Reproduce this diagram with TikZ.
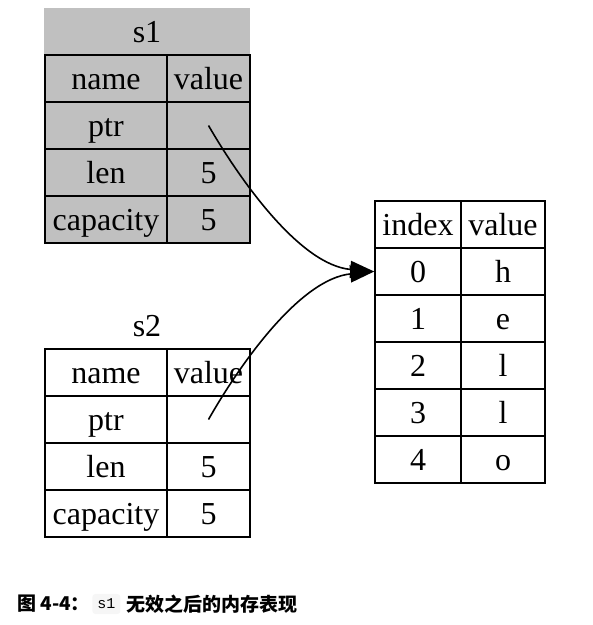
\documentclass[tikz,border=0pt]{standalone}
\usepackage{fontspec}
\setmainfont{Liberation Serif}
\newfontfamily\cjk{Noto Sans CJK SC}
\newfontfamily\monof{Liberation Mono}
\usetikzlibrary{arrows.meta}
\definecolor{cellgray}{HTML}{C0C0C0}
\definecolor{codebg}{HTML}{F6F6F6}
\begin{document}
\begin{tikzpicture}[x=1pt,y=-1pt,
  cell/.style={draw, line width=1.6pt, minimum height=47pt, inner sep=0pt,
    text height=24pt, text depth=3pt, font=\fontsize{32}{36}\selectfont},
  lcol/.style={cell, minimum width=122pt},
  rcol/.style={cell, minimum width=83pt},
  icol/.style={cell, minimum width=86pt},
  vcol/.style={cell, minimum width=84pt},
  gcell/.style={fill=cellgray},
  title/.style={inner sep=0pt, text height=24pt, text depth=3pt, font=\fontsize{32}{36}\selectfont},
  ptrarrow/.style={line width=1.6pt, -{Triangle[length=24pt,width=17pt]}},
  capfont/.style={font=\cjk\bfseries\fontsize{19}{22}\selectfont, inner sep=0pt, anchor=west}
]
\useasboundingbox (0,0) rectangle (593,625);

% s1 title band
\fill[cellgray] (44,8) rectangle (250,55);
\node[title] (s1title) at (147,31.5) {s1};

% s1 table
\node[lcol,gcell] (s1n)   at (106,78.5)  {name};
\node[rcol,gcell] (s1v)   at (208.5,78.5) {value};
\node[lcol,gcell] (s1p)   at (106,125.5) {ptr};
\node[rcol,gcell] (s1pv)  at (208.5,125.5) {};
\node[lcol,gcell] (s1l)   at (106,172.5) {len};
\node[rcol,gcell] (s1lv)  at (208.5,172.5) {5};
\node[lcol,gcell] (s1c)   at (106,219.5) {capacity};
\node[rcol,gcell] (s1cv)  at (208.5,219.5) {5};

% s2 title
\node[title] (s2title) at (147,325.5) {s2};

% s2 table
\node[lcol] (s2n)   at (106,372.5)  {name};
\node[rcol] (s2v)   at (208.5,372.5) {value};
\node[lcol] (s2p)   at (106,419.5) {ptr};
\node[rcol] (s2pv)  at (208.5,419.5) {};
\node[lcol] (s2l)   at (106,466.5) {len};
\node[rcol] (s2lv)  at (208.5,466.5) {5};
\node[lcol] (s2c)   at (106,513.5) {capacity};
\node[rcol] (s2cv)  at (208.5,513.5) {5};

% heap table
\node[icol] (hi)  at (418,224.5) {index};
\node[vcol] (hv)  at (503,224.5) {value};
\node[icol] (h0)  at (418,271.5) {0};
\node[vcol] (h0v) at (503,271.5) {h};
\node[icol] (h1)  at (418,318.5) {1};
\node[vcol] (h1v) at (503,318.5) {e};
\node[icol] (h2)  at (418,365.5) {2};
\node[vcol] (h2v) at (503,365.5) {l};
\node[icol] (h3)  at (418,412.5) {3};
\node[vcol] (h3v) at (503,412.5) {l};
\node[icol] (h4)  at (418,459.5) {4};
\node[vcol] (h4v) at (503,459.5) {o};

% pointers
\draw[ptrarrow] (s1pv.center) .. controls (240,180) and (300,265) .. (h0.west);
\draw[ptrarrow] (s2pv.center) .. controls (240,364) and (300,279) .. (h0.west);

% caption
\node[capfont] (cap1) at (17,604) {图 4-4：};
\node[fill=codebg, rounded corners=3pt, inner xsep=5pt, inner ysep=5pt, anchor=west,
  font=\monof\fontsize{15}{17}\selectfont] (capcode) at ([xshift=2pt]cap1.east) {s1};
\node[capfont] (cap2) at ([xshift=6pt]capcode.east) {无效之后的内存表现};
\end{tikzpicture}
\end{document}
